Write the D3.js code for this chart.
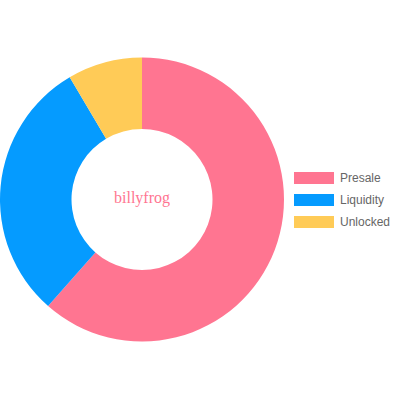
<!DOCTYPE html>
<html>
<head>
<meta charset="utf-8">
<script src="https://cdn.jsdelivr.net/npm/d3@7"></script>
<style>
  body { margin: 0; background: #fff; }
</style>
</head>
<body>
<svg width="400" height="400"></svg>
<script>
var labels = ["Presale", "Liquidity", "Unlocked"];
var values = [61.5, 30, 8.5];
var colors = ["#ff7591", "#059bff", "#ffcb57"];
var centerText = "billyfrog";

var svg = d3.select("svg");

var cx = 142, cy = 199.5,
    outerR = 142, innerR = 70.5;

var pie = d3.pie().sort(null).value(function(d) { return d; });
var arc = d3.arc().innerRadius(innerR).outerRadius(outerR);

var g = svg.append("g")
    .attr("transform", "translate(" + cx + "," + cy + ")");

g.selectAll(".slice")
    .data(pie(values))
  .enter().append("path")
    .attr("class", "slice")
    .attr("fill", function(d, i) { return colors[i]; })
    .attr("d", arc);

g.append("text")
    .attr("text-anchor", "middle")
    .attr("y", 3)
    .style("font-family", "'Liberation Serif', 'DejaVu Serif', serif")
    .style("font-size", "16px")
    .style("fill", "#ff7591")
    .text(centerText);

// legend
var legend = svg.append("g")
    .attr("transform", "translate(294,172)");

var item = legend.selectAll(".item")
    .data(labels)
  .enter().append("g")
    .attr("class", "item")
    .attr("transform", function(d, i) { return "translate(0," + (i * 22) + ")"; });

item.append("rect")
    .attr("width", 40)
    .attr("height", 12)
    .attr("fill", function(d, i) { return colors[i]; });

item.append("text")
    .attr("x", 46)
    .attr("y", 6)
    .attr("dy", "0.35em")
    .style("font-family", "'Liberation Sans', Arial, sans-serif")
    .style("font-size", "12px")
    .style("fill", "#666")
    .text(function(d) { return d; });
</script>
</body>
</html>
